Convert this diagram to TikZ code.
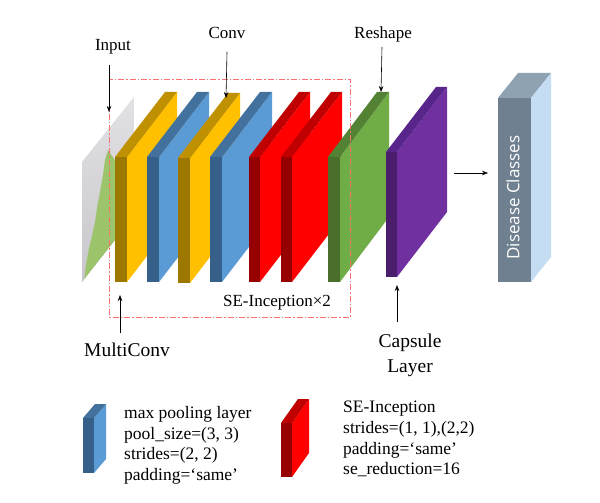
\documentclass[tikz,border=0pt]{standalone}
\usepackage{fontspec}
\setmainfont{Liberation Serif}
\newfontfamily\dcfont{Open Sans}
\usetikzlibrary{arrows.meta}
\definecolor{yfront}{HTML}{9C7800}
\definecolor{yside}{HTML}{FFC000}
\definecolor{ytop}{HTML}{BF9000}
\definecolor{bfront}{HTML}{365F8A}
\definecolor{bside}{HTML}{5B9BD5}
\definecolor{btop}{HTML}{41719C}
\definecolor{rfront}{HTML}{960000}
\definecolor{rside}{HTML}{FF0000}
\definecolor{rtop}{HTML}{C00000}
\definecolor{gfront}{HTML}{4A6E2C}
\definecolor{gside}{HTML}{70AD47}
\definecolor{gtop}{HTML}{548235}
\definecolor{pfront}{HTML}{4A1E6C}
\definecolor{pside}{HTML}{7030A0}
\definecolor{ptop}{HTML}{58258A}
\definecolor{dfront}{HTML}{6F8090}
\definecolor{dtop}{HTML}{8FA2B2}
\definecolor{dside}{HTML}{C4DDF2}
\definecolor{boxred}{HTML}{FF7070}
\definecolor{leafgreen}{HTML}{9CC46A}
\definecolor{sheetgray}{HTML}{C8C6CC}
\definecolor{sheetlight}{HTML}{E2E1E4}
% x, ytop, w, h, dx, rise, front, side, top
\newcommand\myslab[9]{%
  \fill[#8] (#1+#3,#2) -- (#1+#3+#5,#2-#6) -- (#1+#3+#5,#2-#6+#4) -- (#1+#3,#2+#4) -- cycle;
  \fill[#9] (#1,#2) -- (#1+#3,#2) -- (#1+#3+#5,#2-#6) -- (#1+#5,#2-#6) -- cycle;
  \fill[#7] (#1,#2) rectangle (#1+#3,#2+#4);
}
\tikzset{
  arr/.style={-{Stealth[length=6pt,width=4.5pt]}, line width=0.6pt, black},
  lbl/.style={font=\fontsize{17}{20}\selectfont, inner sep=0pt},
  biglbl/.style={font=\fontsize{19.5}{23}\selectfont, inner sep=0pt},
  legtxt/.style={font=\fontsize{17.5}{21}\selectfont, inner sep=0pt, anchor=base west},
}
\begin{document}
\begin{tikzpicture}[x=1pt,y=-1pt]
\useasboundingbox (0,0) rectangle (600,503);
\fill[white] (0,0) rectangle (600,503);
% input sheet
\begin{scope}
  \clip (82,162) -- (134,97) -- (134,216) -- (82,282) -- cycle;
  \shade[top color=sheetlight, bottom color=sheetgray] (82,97) rectangle (134,282);
  \fill[leafgreen] (84,282) -- (86,265) -- (89,248) -- (92,236) -- (95,222) -- (97,208) -- (100,192) -- (103,175) -- (105,160) -- (108,150) -- (116,162) -- (126,178) -- (134,188) -- (134,216) -- (82,282) -- cycle;
\end{scope}
% layers
\myslab{115}{157}{12}{125}{50}{65}{yfront}{yside}{ytop}
\myslab{147}{157}{12}{125}{50}{65}{bfront}{bside}{btop}
\myslab{178}{158}{12}{125}{50}{65}{yfront}{yside}{ytop}
\myslab{210}{157}{12}{125}{50}{65}{bfront}{bside}{btop}
\myslab{249}{157}{11}{125}{50}{65}{rfront}{rside}{rtop}
\myslab{281}{157}{11}{125}{50}{65}{rfront}{rside}{rtop}
\myslab{328}{157}{12}{125}{49}{65}{gfront}{gside}{gtop}
\myslab{386}{152}{11}{125}{50}{65}{pfront}{pside}{ptop}
% dashed group box
\draw[boxred, line width=0.9pt, dash pattern=on 6pt off 2pt on 1.5pt off 2pt] (109,79) rectangle (350,317);
% disease classes box
\fill[dtop] (498,98) -- (531,98) -- (551,73) -- (518,73) -- cycle;
\fill[dside] (531,98) -- (551,73) -- (551,257) -- (531,282) -- cycle;
\fill[dfront] (498,98) rectangle (531,282);
\node[rotate=90, text=white, font=\dcfont\fontsize{17}{20}\selectfont, inner sep=0pt] (dc) at (513,197.5) {Disease Classes};
% labels
\node[lbl] (input) at (113,47) {Input};
\node[lbl] (conv) at (227,33) {Conv};
\node[lbl] (reshape) at (383,34) {Reshape};
\node[lbl] (se) at (277,303) {SE-Inception×2};
\node[biglbl] (multi) at (127,350) {MultiConv};
\node[biglbl] (caps) at (410,343) {Capsule};
\node[biglbl] (layer) at (410,368) {Layer};
% arrow ends
\coordinate (inputtail) at (109,65);
\coordinate (inputtip) at (109,112);
\coordinate (convtail) at (227,52);
\coordinate (convtip) at (226,98);
\coordinate (reshapetail) at (382,47);
\coordinate (reshapetip) at (381,92);
\coordinate (multitail) at (120,333);
\coordinate (multitip) at (120,295);
\coordinate (capstail) at (397,322);
\coordinate (capstip) at (397,285);
\coordinate (outtail) at (454,173);
\coordinate (outtip) at (488,173);
\draw[arr] (inputtail) -- (inputtip);
\draw[arr] (convtail) -- (convtip);
\draw[arr] (reshapetail) -- (reshapetip);
\draw[arr] (multitail) -- (multitip);
\draw[arr] (capstail) -- (capstip);
\draw[arr] (outtail) -- (outtip);
% legend
\myslab{83}{418}{11}{55}{12}{14}{bfront}{bside}{btop}
\myslab{281}{423}{11}{54}{17}{24}{rfront}{rside}{rtop}
\node[legtxt] (la) at (124,418) {max pooling layer};
\node[legtxt] (lb) at (124,439) {pool\_size=(3, 3)};
\node[legtxt] (lc) at (124,459) {strides=(2, 2)};
\node[legtxt] (ld) at (124,480) {padding=‘same’};
\node[legtxt] (ra) at (343,412) {SE-Inception};
\node[legtxt] (rb) at (343,433) {strides=(1, 1),(2,2)};
\node[legtxt] (rc) at (343,454) {padding=‘same’};
\node[legtxt] (rd) at (343,474) {se\_reduction=16};
\end{tikzpicture}
\end{document}
